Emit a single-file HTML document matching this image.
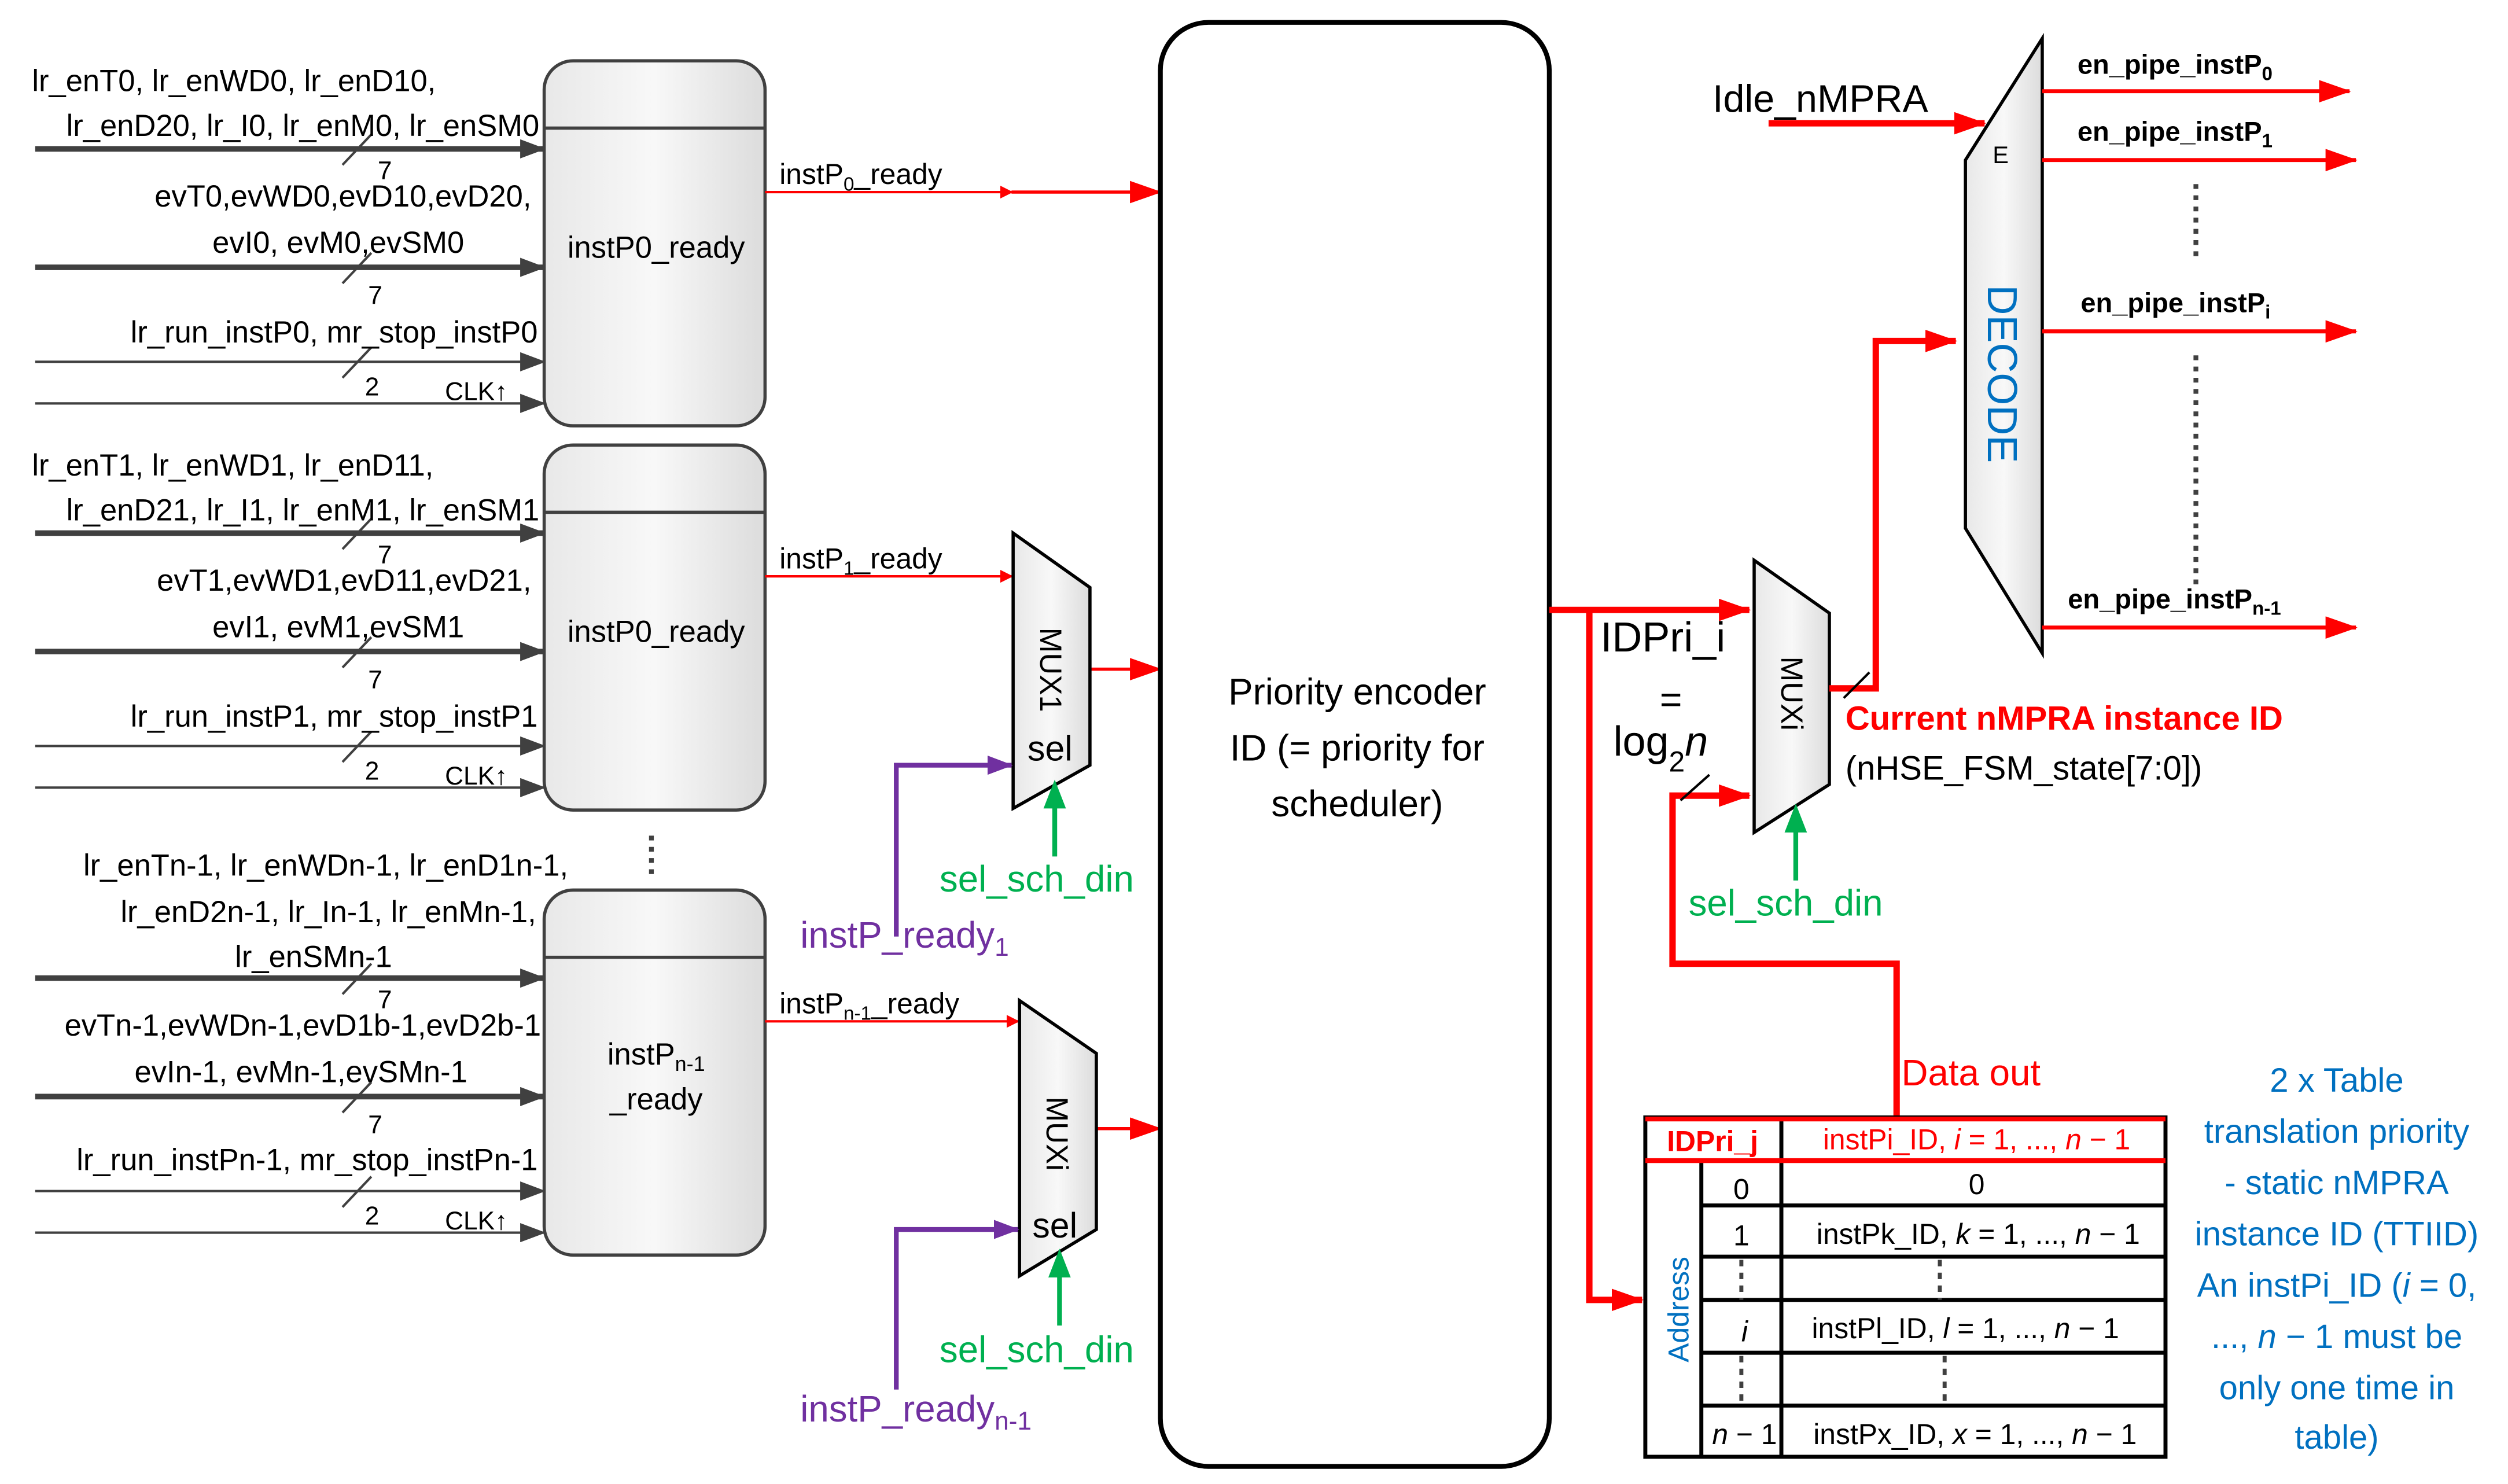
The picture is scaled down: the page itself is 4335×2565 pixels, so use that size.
<!DOCTYPE html>
<html><head><meta charset="utf-8"><style>
html,body{margin:0;padding:0;background:#fff}
svg{display:block}
text{font-family:"Liberation Sans",sans-serif}
</style></head><body>
<svg width="4335" height="2565" viewBox="0 0 1567 927" preserveAspectRatio="none" xmlns="http://www.w3.org/2000/svg">
<defs>
<marker id="ar" markerWidth="8" markerHeight="8" refX="7" refY="4" orient="auto" markerUnits="userSpaceOnUse"><path d="M0,0 L8,4 L0,8 Z" fill="#f00"/></marker>
<marker id="arB" markerWidth="20" markerHeight="14" refX="19" refY="7" orient="auto" markerUnits="userSpaceOnUse"><path d="M0,0 L20,7 L0,14 Z" fill="#f00"/></marker>
<marker id="ak" markerWidth="16" markerHeight="12" refX="15" refY="6" orient="auto" markerUnits="userSpaceOnUse"><path d="M0,0 L16,6 L0,12 Z" fill="#404040"/></marker>
<marker id="ap" markerWidth="16" markerHeight="12" refX="15" refY="6" orient="auto" markerUnits="userSpaceOnUse"><path d="M0,0 L16,6 L0,12 Z" fill="#7030a0"/></marker>
<linearGradient id="gr" x1="0" x2="1"><stop offset="0" stop-color="#e8e8e8"/><stop offset="0.5" stop-color="#f8f8f8"/><stop offset="1" stop-color="#dcdcdc"/></linearGradient>
</defs>

<g stroke="#404040" stroke-width="2" fill="url(#gr)">
<rect x="340" y="38" width="138" height="228" rx="18"/>
<rect x="340" y="278" width="138" height="228" rx="18"/>
<rect x="340" y="556" width="138" height="228" rx="18"/>
</g>
<g stroke="#404040" stroke-width="2">
<line x1="340" y1="80" x2="478" y2="80"/><line x1="340" y1="320" x2="478" y2="320"/><line x1="340" y1="598" x2="478" y2="598"/>
</g>
<g font-size="19" fill="#000" text-anchor="middle">
<text x="410" y="161">instP0_ready</text>
<text x="410" y="401">instP0_ready</text>
<text x="410" y="665">instP<tspan font-size="13" dy="4">n-1</tspan></text>
<text x="410" y="693">_ready</text>
</g>
<line x1="407" y1="522" x2="407" y2="548" stroke="#404040" stroke-width="3" stroke-dasharray="3,4"/>

<g id="inp">
<g stroke="#404040">
<line x1="22" y1="93" x2="340" y2="93" stroke-width="3.5" marker-end="url(#ak)"/>
<line x1="22" y1="167" x2="340" y2="167" stroke-width="3.5" marker-end="url(#ak)"/>
<line x1="22" y1="226" x2="340" y2="226" stroke-width="1.5" marker-end="url(#ak)"/>
<line x1="22" y1="252" x2="340" y2="252" stroke-width="1.5" marker-end="url(#ak)"/>
<line x1="214" y1="103" x2="232" y2="84" stroke-width="1.5"/>
<line x1="214" y1="177" x2="232" y2="158" stroke-width="1.5"/>
<line x1="214" y1="236" x2="232" y2="217" stroke-width="1.5"/>
</g>
</g>
<use href="#inp" y="240"/>
<use href="#inp" y="518"/>
<g font-size="19" fill="#000">
<text x="236" y="112" font-size="16">7</text><text x="230" y="190" font-size="16">7</text><text x="228" y="247" font-size="16">2</text><text x="278" y="250" font-size="16">CLK↑</text>
<text x="236" y="352" font-size="16">7</text><text x="230" y="430" font-size="16">7</text><text x="228" y="487" font-size="16">2</text><text x="278" y="490" font-size="16">CLK↑</text>
<text x="236" y="630" font-size="16">7</text><text x="230" y="708" font-size="16">7</text><text x="228" y="765" font-size="16">2</text><text x="278" y="768" font-size="16">CLK↑</text>
<text x="20" y="57">lr_enT0, lr_enWD0, lr_enD10,</text>
<text x="337" y="85" text-anchor="end">lr_enD20, lr_I0, lr_enM0, lr_enSM0</text>
<text x="332" y="129" text-anchor="end">evT0,evWD0,evD10,evD20,</text>
<text x="290" y="158" text-anchor="end">evI0, evM0,evSM0</text>
<text x="336" y="214" text-anchor="end">lr_run_instP0, mr_stop_instP0</text>
<text x="20" y="297">lr_enT1, lr_enWD1, lr_enD11,</text>
<text x="337" y="325" text-anchor="end">lr_enD21, lr_I1, lr_enM1, lr_enSM1</text>
<text x="332" y="369" text-anchor="end">evT1,evWD1,evD11,evD21,</text>
<text x="290" y="398" text-anchor="end">evI1, evM1,evSM1</text>
<text x="336" y="454" text-anchor="end">lr_run_instP1, mr_stop_instP1</text>
<text x="355" y="547" text-anchor="end">lr_enTn-1, lr_enWDn-1, lr_enD1n-1,</text>
<text x="335" y="576" text-anchor="end">lr_enD2n-1, lr_In-1, lr_enMn-1,</text>
<text x="245" y="604" text-anchor="end">lr_enSMn-1</text>
<text x="338" y="647" text-anchor="end">evTn-1,evWDn-1,evD1b-1,evD2b-1</text>
<text x="292" y="676" text-anchor="end">evIn-1, evMn-1,evSMn-1</text>
<text x="336" y="731" text-anchor="end">lr_run_instPn-1, mr_stop_instPn-1</text>
</g>

<g stroke="#f00" stroke-width="1.5" fill="none">
<line x1="478" y1="120" x2="632" y2="120" marker-end="url(#ar)"/>
<line x1="632" y1="120" x2="725" y2="120" stroke-width="2" marker-end="url(#arB)"/>
<line x1="478" y1="360" x2="632" y2="360" marker-end="url(#ar)"/>
<line x1="478" y1="638" x2="636" y2="638" marker-end="url(#ar)"/>
<line x1="681" y1="418" x2="725" y2="418" stroke-width="2" marker-end="url(#arB)"/>
<line x1="685" y1="705" x2="725" y2="705" stroke-width="2" marker-end="url(#arB)"/>
</g>
<g font-size="18" fill="#000">
<text x="487" y="115">instP<tspan font-size="12" dy="4">0</tspan><tspan dy="-4">_ready</tspan></text>
<text x="487" y="355">instP<tspan font-size="12" dy="4">1</tspan><tspan dy="-4">_ready</tspan></text>
<text x="487" y="633">instP<tspan font-size="12" dy="4">n-1</tspan><tspan dy="-4">_ready</tspan></text>
</g>

<g stroke="#000" stroke-width="2" fill="url(#gr)">
<polygon points="633,333 681,367 681,478 633,505"/>
<polygon points="637,625 685,658 685,768 637,797"/>
<polygon points="1096,350 1143,383 1143,490 1096,520"/>
<polygon points="1228,100 1276,24 1276,408 1228,330"/>
</g>
<g font-size="19" fill="#000">
<text transform="translate(650,392) rotate(90)">MUX1</text>
<text x="642" y="475" font-size="22">sel</text>
<text transform="translate(654,685) rotate(90)">MUXi</text>
<text x="645" y="773" font-size="22">sel</text>
<text transform="translate(1113,410) rotate(90)">MUXi</text>
<text x="1245" y="102" font-size="15">E</text>
<text transform="translate(1242,178) rotate(90)" font-size="26" fill="#0070c0">DECODE</text>
</g>

<g fill="none" stroke-width="3">
<polyline points="560,585 560,478 632,478" stroke="#7030a0" marker-end="url(#ap)"/>
<polyline points="560,868 560,768 636,768" stroke="#7030a0" marker-end="url(#ap)"/>
<line x1="659" y1="535" x2="659" y2="503" stroke="#00b050"/>
<line x1="662" y1="828" x2="662" y2="796" stroke="#00b050"/>
<line x1="1122" y1="550" x2="1122" y2="518" stroke="#00b050"/>
</g>
<g fill="#00b050">
<path d="M652,505 L659,487 L666,505 Z"/><path d="M655,798 L662,780 L669,798 Z"/><path d="M1115,520 L1122,502 L1129,520 Z"/>
</g>
<g font-size="23">
<text x="500" y="592" fill="#7030a0">instP_ready<tspan font-size="16" dy="5">1</tspan></text>
<text x="500" y="888" fill="#7030a0">instP_ready<tspan font-size="16" dy="5">n-1</tspan></text>
<text x="587" y="557" fill="#00b050">sel_sch_din</text>
<text x="587" y="851" fill="#00b050">sel_sch_din</text>
<text x="1055" y="572" fill="#00b050">sel_sch_din</text>
</g>

<rect x="725" y="14" width="243" height="902" rx="30" fill="#fff" stroke="#000" stroke-width="3"/>
<g font-size="23" text-anchor="middle" fill="#000">
<text x="848" y="440">Priority encoder</text>
<text x="848" y="475">ID (= priority for</text>
<text x="848" y="510">scheduler)</text>
</g>

<g stroke="#f00" stroke-width="4" fill="none">
<line x1="968" y1="381" x2="1093" y2="381" marker-end="url(#arB)"/>
<polyline points="993,381 993,812 1026,812" marker-end="url(#arB)"/>
<polyline points="1185,698 1185,602 1045,602 1045,497 1093,497" marker-end="url(#arB)"/>
<polyline points="1143,430 1172,430 1172,213 1222,213" marker-end="url(#arB)"/>
<line x1="1105" y1="77" x2="1240" y2="77" marker-end="url(#arB)"/>
</g>
<g stroke="#f00" stroke-width="2.5">
<line x1="1276" y1="57" x2="1468" y2="57" marker-end="url(#arB)"/>
<line x1="1276" y1="100" x2="1472" y2="100" marker-end="url(#arB)"/>
<line x1="1276" y1="207" x2="1472" y2="207" marker-end="url(#arB)"/>
<line x1="1276" y1="392" x2="1472" y2="392" marker-end="url(#arB)"/>
</g>
<g stroke="#404040" stroke-width="3" stroke-dasharray="3,4">
<line x1="1372" y1="115" x2="1372" y2="162"/><line x1="1372" y1="222" x2="1372" y2="368"/>
</g>
<g stroke="#000" stroke-width="1.5"><line x1="1050" y1="500" x2="1068" y2="484"/><line x1="1152" y1="436" x2="1168" y2="420"/></g>
<g fill="#000">
<text x="1070" y="70" font-size="24">Idle_nMPRA</text>
<text x="1000" y="407" font-size="26">IDPri_i</text>
<text x="1037" y="445" font-size="24">=</text>
<text x="1008" y="472" font-size="26" font-family="Liberation Serif">log<tspan font-size="18" dy="10">2</tspan><tspan dy="-10" font-style="italic">n</tspan></text>
<text x="1153" y="456" font-size="21" font-weight="bold" fill="#f00">Current nMPRA instance ID</text>
<text x="1153" y="487" font-size="21">(nHSE_FSM_state[7:0])</text>
<g font-size="17" font-weight="bold">
<text x="1298" y="46">en_pipe_instP<tspan font-size="12" dy="4">0</tspan></text>
<text x="1298" y="88">en_pipe_instP<tspan font-size="12" dy="4">1</tspan></text>
<text x="1300" y="195">en_pipe_instP<tspan font-size="12" dy="4">i</tspan></text>
<text x="1292" y="380">en_pipe_instP<tspan font-size="12" dy="4">n-1</tspan></text>
</g>
<text x="1188" y="678" font-size="23" fill="#f00">Data out</text>
</g>

<g stroke="#000" stroke-width="2.5" fill="none">
<rect x="1028" y="698" width="325" height="212"/>
<line x1="1063" y1="725" x2="1063" y2="910"/>
<line x1="1113" y1="698" x2="1113" y2="910"/>
<line x1="1063" y1="753" x2="1353" y2="753"/>
<line x1="1063" y1="785" x2="1353" y2="785"/>
<line x1="1063" y1="812" x2="1353" y2="812"/>
<line x1="1063" y1="845" x2="1353" y2="845"/>
<line x1="1063" y1="878" x2="1353" y2="878"/>
</g>
<g stroke="#f00" stroke-width="3"><line x1="1028" y1="699" x2="1353" y2="699"/><line x1="1028" y1="725" x2="1353" y2="725"/></g>
<g stroke="#404040" stroke-width="2.5" stroke-dasharray="4,4">
<line x1="1088" y1="787" x2="1088" y2="812"/><line x1="1212" y1="787" x2="1212" y2="812"/>
<line x1="1088" y1="847" x2="1088" y2="878"/><line x1="1215" y1="847" x2="1215" y2="878"/>
</g>
<g font-size="18" fill="#000" text-anchor="middle">
<text x="1070" y="719" fill="#f00" font-weight="bold">IDPri_j</text>
<text x="1235" y="718" fill="#f00">instPi_ID, <tspan font-style="italic">i</tspan> = 1, ..., <tspan font-style="italic">n</tspan> − 1</text>
<text x="1088" y="749">0</text><text x="1235" y="746">0</text>
<text x="1088" y="778">1</text><text x="1236" y="777">instPk_ID, <tspan font-style="italic">k</tspan> = 1, ..., <tspan font-style="italic">n</tspan> − 1</text>
<text x="1090" y="838" font-style="italic">i</text><text x="1228" y="836">instPl_ID, <tspan font-style="italic">l</tspan> = 1, ..., <tspan font-style="italic">n</tspan> − 1</text>
<text x="1090" y="902"><tspan font-style="italic">n</tspan> − 1</text><text x="1234" y="902">instPx_ID, <tspan font-style="italic">x</tspan> = 1, ..., <tspan font-style="italic">n</tspan> − 1</text>
<text transform="translate(1055,818) rotate(-90)" fill="#0070c0">Address</text>
</g>
<g font-size="21" fill="#0070c0" text-anchor="middle">
<text x="1460" y="682">2 x Table</text>
<text x="1460" y="714">translation priority</text>
<text x="1460" y="746">- static nMPRA</text>
<text x="1460" y="778">instance ID (TTIID)</text>
<text x="1460" y="810">An instPi_ID (<tspan font-style="italic">i</tspan> = 0,</text>
<text x="1460" y="842">..., <tspan font-style="italic">n</tspan> − 1 must be</text>
<text x="1460" y="874">only one time in</text>
<text x="1460" y="905">table)</text>
</g>
</svg>
</body></html>
